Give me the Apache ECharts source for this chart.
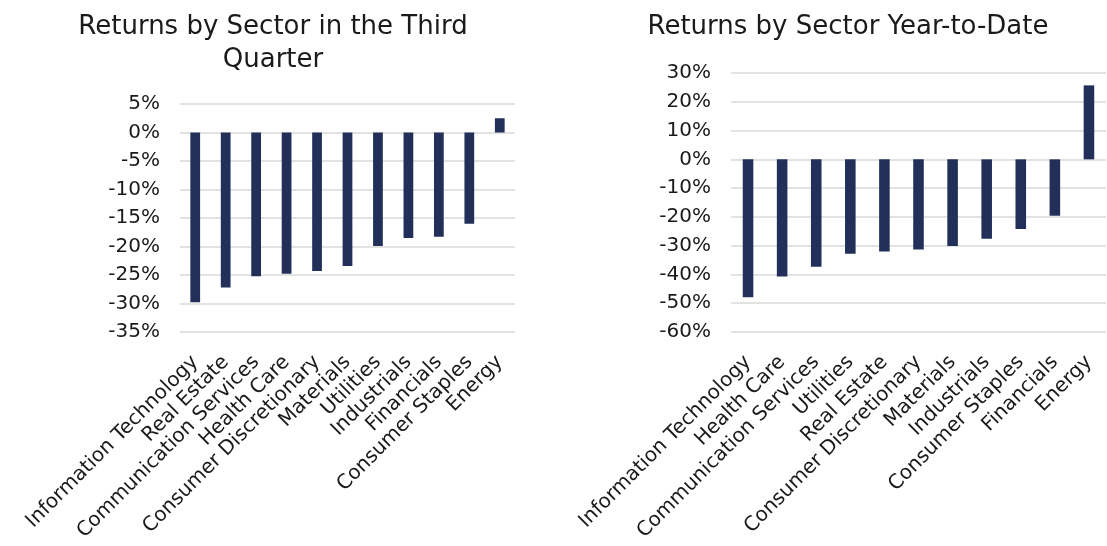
<!DOCTYPE html>
<html>
<head>
<meta charset="utf-8">
<script src="https://cdn.jsdelivr.net/npm/echarts@6/dist/echarts.min.js"></script>
<style>
  html, body { margin: 0; padding: 0; background: #fff; }
  #chart { width: 1107px; height: 546px; }
</style>
</head>
<body>
<div id="chart"></div>
<script>
var quarterSectors = ['Information Technology', 'Real Estate', 'Communication Services', 'Health Care',
  'Consumer Discretionary', 'Materials', 'Utilities', 'Industrials', 'Financials', 'Consumer Staples', 'Energy'];
var quarterReturns = [-29.8, -27.2, -25.2, -24.8, -24.3, -23.4, -19.9, -18.5, -18.3, -16.0, 2.5];

var ytdSectors = ['Information Technology', 'Health Care', 'Communication Services', 'Utilities',
  'Real Estate', 'Consumer Discretionary', 'Materials', 'Industrials', 'Consumer Staples', 'Financials', 'Energy'];
var ytdReturns = [-47.9, -40.7, -37.3, -32.8, -32.0, -31.3, -30.1, -27.6, -24.2, -19.6, 25.7];

var font = 'DejaVu Sans';
var textColor = '#1a1a1a';
var barColor = '#223059';

var myChart = echarts.init(document.getElementById('chart'));

function xAxisFor(i, data) {
  return {
    type: 'category',
    gridIndex: i,
    data: data,
    axisLine: { show: false },
    axisTick: { show: false },
    axisLabel: {
      interval: 0,
      rotate: 45,
      margin: 27,
      color: textColor,
      fontFamily: font,
      fontSize: 20
    }
  };
}

function yAxisFor(i, min, max, step) {
  return {
    type: 'value',
    gridIndex: i,
    min: min,
    max: max,
    interval: step,
    axisLine: { show: false },
    axisTick: { show: false },
    splitLine: { lineStyle: { color: '#d9d9d9', width: 1.5 } },
    axisLabel: {
      formatter: '{value}%',
      margin: 20,
      color: textColor,
      fontFamily: font,
      fontSize: 20
    }
  };
}

var option = {
  animation: false,
  title: [
    {
      text: 'Returns by Sector in the Third\nQuarter',
      left: 268,
      top: 6,
      textAlign: 'center',
      textStyle: { fontFamily: font, fontSize: 26, fontWeight: 'normal', color: textColor, lineHeight: 33 }
    },
    {
      text: 'Returns by Sector Year-to-Date',
      left: 843,
      top: 6,
      textAlign: 'center',
      textStyle: { fontFamily: font, fontSize: 26, fontWeight: 'normal', color: textColor, lineHeight: 33 }
    }
  ],
  grid: [
    { left: 180, right: 592, top: 104, bottom: 214 },
    { left: 731, right: 1, top: 73, bottom: 214 }
  ],
  xAxis: [xAxisFor(0, quarterSectors), xAxisFor(1, ytdSectors)],
  yAxis: [yAxisFor(0, -35, 5, 5), yAxisFor(1, -60, 30, 10)],
  series: [
    {
      type: 'bar',
      xAxisIndex: 0,
      yAxisIndex: 0,
      barWidth: '32%',
      itemStyle: { color: barColor },
      data: quarterReturns
    },
    {
      type: 'bar',
      xAxisIndex: 1,
      yAxisIndex: 1,
      barWidth: '31%',
      itemStyle: { color: barColor },
      data: ytdReturns
    }
  ]
};
myChart.setOption(option);
</script>
</body>
</html>
